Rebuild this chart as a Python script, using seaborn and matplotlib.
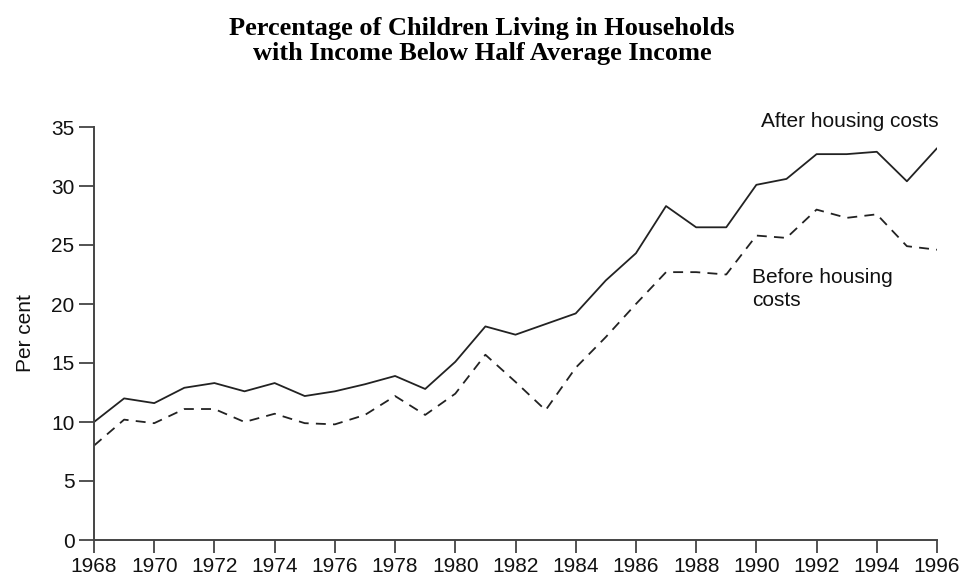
import matplotlib
matplotlib.use("Agg")
import matplotlib.pyplot as plt
import seaborn as sns
import pandas as pd

years = list(range(1968, 1997))
after_housing = [10.0, 12.0, 11.6, 12.9, 13.3, 12.6, 13.3, 12.2, 12.6, 13.2, 13.9, 12.8, 15.1,
                 18.1, 17.4, 18.3, 19.2, 22.0, 24.3, 28.3, 26.5, 26.5, 30.1, 30.6, 32.7, 32.7,
                 32.9, 30.4, 33.2]
before_housing = [8.0, 10.2, 9.9, 11.1, 11.1, 10.0, 10.7, 9.9, 9.8, 10.6, 12.2, 10.6, 12.4,
                  15.7, 13.4, 11.0, 14.6, 17.2, 20.0, 22.7, 22.7, 22.5, 25.8, 25.6, 28.0, 27.3,
                  27.6, 24.9, 24.6]
series_names = ["After housing costs", "Before housing costs"]
x_ticks = list(range(1968, 1997, 2))
y_ticks = [0, 5, 10, 15, 20, 25, 30, 35]

df = pd.DataFrame({
    "Year": years * 2,
    "Value": after_housing + before_housing,
    "Series": [series_names[0]] * len(years) + [series_names[1]] * len(years),
})

sns.set_theme(style="white")
plt.rcParams["font.family"] = ["Liberation Sans", "DejaVu Sans"]

fig = plt.figure(figsize=(9.62, 5.78), dpi=100)
ax = fig.add_axes([94 / 962, 1 - 540 / 578, (937 - 94) / 962, (540 - 127) / 578])

line_col = "#222222"
sns.lineplot(data=df, x="Year", y="Value", hue="Series", style="Series",
             palette={series_names[0]: line_col, series_names[1]: line_col},
             dashes={series_names[0]: "", series_names[1]: (5.5, 4)},
             linewidth=1.3, legend=False, ax=ax)

ax.set_xlim(1968, 1996)
ax.set_ylim(0, 35)
ax.set_xticks(x_ticks)
ax.set_xticklabels([str(t) for t in x_ticks])
ax.set_yticks(y_ticks)
ax.set_yticklabels([str(t) for t in y_ticks])
ax.set_xlabel("")
ax.set_ylabel("Per cent", fontsize=15, color="#111111", labelpad=12)

for s in ["top", "right"]:
    ax.spines[s].set_visible(False)
for s in ["left", "bottom"]:
    ax.spines[s].set_color("#444444")
    ax.spines[s].set_linewidth(1.4)

ax.tick_params(axis="x", direction="out", length=9, width=1.3, color="#444444",
               labelsize=15, labelcolor="#111111", pad=3, bottom=True)
ax.tick_params(axis="y", direction="out", length=11, width=1.3, color="#444444",
               labelsize=15, labelcolor="#111111", pad=3, left=True)
ax.grid(False)

ax.text(1996.05, 35.45, "After housing costs", fontsize=15, color="#111111",
        ha="right", va="center")
ax.text(1989.85, 21.3, "Before housing\ncosts", fontsize=15, color="#111111",
        ha="left", va="center", linespacing=1.25)

fig.text(0.501, 1 - 41 / 578, "Percentage of Children Living in Households\nwith Income Below Half Average Income",
         family=["Liberation Serif", "DejaVu Serif"], fontweight="bold", fontsize=19,
         ha="center", va="center", linespacing=1.08, color="#000000")

fig.savefig("out.png", dpi=100, facecolor="white")
